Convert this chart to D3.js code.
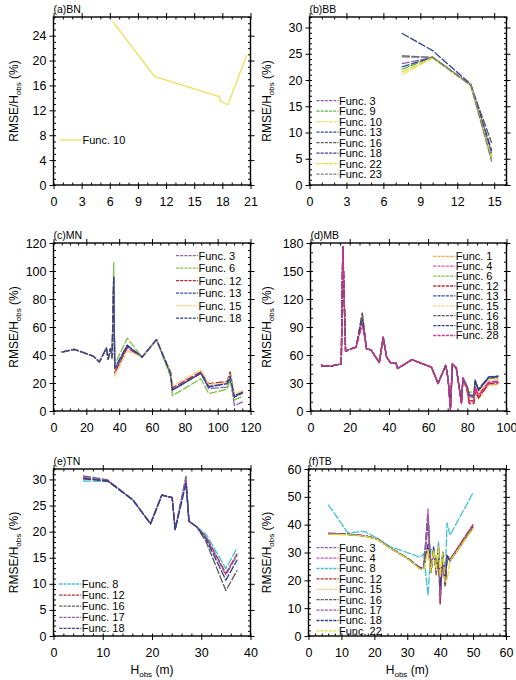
<!DOCTYPE html>
<html>
<head>
<meta charset="utf-8">
<script src="https://cdn.jsdelivr.net/npm/d3@7"></script>
<style>
  body { margin: 0; background: #fff; }
  text { font-family: "Liberation Sans", Arial, Helvetica, sans-serif; fill: #000; }
</style>
</head>
<body>
<div id="chart"></div>
<script>
// ---- data ----

// (a) BN
var xBN = [6.3, 10.8, 17.7, 17.75, 18.0, 18.6, 20.6];
var bnF10 = [26.3, 17.4, 14.2, 13.5, 13.3, 12.9, 20.9];

// (b) BB
var xBB = [7.5, 10, 13.1, 14.8];
var bbF3  = [23.1, 24.3, 19.0, 5.5];
var bbF9  = [22.0, 24.4, 19.0, 5.0];
var bbF10 = [21.0, 24.2, 19.0, 6.0];
var bbF13 = [22.5, 24.3, 19.1, 5.8];
var bbF16 = [24.6, 24.3, 19.0, 8.0];
var bbF18 = [28.9, 25.6, 19.2, 6.5];
var bbF22 = [21.5, 24.2, 19.0, 5.2];
var bbF23 = [24.4, 24.3, 19.0, 4.4];

// (c) MN
var xMN = [5, 12.7, 24.5, 28, 32.2, 33.3, 34.7, 35.7, 36.7, 37.3, 44.9, 54, 62.7, 71.4, 72.4, 89.8, 94.5, 105.7, 107.6, 110.2, 115.3];
var mnF3  = [42, 44, 39, 35, 45, 37, 44.5, 38, 95, 28, 46, 38.5, 51, 26, 15, 27, 16, 17, 24, 4, 6.5];
var mnF6  = [42, 44, 39, 35, 45, 37, 44.5, 40, 106, 33, 52, 38.5, 51, 24, 11, 23, 12.5, 15.5, 22, 8, 10.5];
var mnF12 = [42, 44, 39, 35, 45, 37, 44.5, 38, 95, 27, 45, 38.5, 51, 27, 16.5, 28, 19.5, 21, 28, 11, 14];
var mnF13 = [42, 44, 39, 35, 45, 37, 44.5, 38, 95, 30, 47, 38.5, 51, 27, 15, 27, 17, 19.5, 24, 10, 13.5];
var mnF15 = [42, 44, 39, 35, 45, 37, 44.5, 37, 95, 25, 43, 38.5, 51, 28, 18, 29.5, 19, 20, 26, 12, 14.5];
var mnF18 = [42, 44, 39, 35, 45, 37, 44.5, 38, 96, 30.5, 47, 38.5, 51, 27, 15, 27, 17.5, 19.5, 25, 10, 13];

// (d) MB
var xMB = [5.5, 6.5, 10, 15.7, 16.5, 17.9, 20, 23.3, 26.4, 28.6, 30.8, 35.1, 37.1, 38.8, 41, 43.6, 44.4, 51.8, 56, 61.7, 65.1, 69, 70.2, 71.4, 72.4, 74.4, 77, 77.8, 79.9, 81, 83.4, 84, 85.7, 90.8, 95.9];
var mbF1  = [48, 48, 48, 50.5, 176, 64, 66, 68.5, 100, 66.5, 65.5, 52, 79, 58, 51, 51.5, 45.5, 55, 51.5, 47, 29.5, 49, 34.5, 3, 50.5, 46, 9, 35, 22, 8, 8.5, 20, 13, 27.5, 28.5];
var mbF4  = [50, 48, 48, 50.5, 176, 64, 66, 68.5, 95, 66.5, 65.5, 52, 79, 58, 51, 51.5, 45.5, 55, 51.5, 47, 29.5, 49, 34.5, 2, 50.5, 46, 9, 35, 24, 10, 10, 25, 16, 30, 31];
var mbF6  = [48, 48, 48, 50.5, 176, 64, 66, 68.5, 100, 66.5, 65.5, 52, 79, 58, 51, 51.5, 45.5, 55, 51.5, 47, 29.5, 49, 34.5, 3, 50.5, 46, 9, 35, 27, 20, 21, 30, 24, 35, 35];
var mbF12 = [48, 48, 48, 50.5, 176, 64, 66, 68.5, 105, 66.5, 65.5, 52, 79, 58, 51, 51.5, 45.5, 55, 51.5, 47, 29.5, 49, 34.5, 3, 50.5, 46, 9, 35, 22, 8, 8, 22, 14, 29, 30];
var mbF13 = [48, 48, 48, 50.5, 176, 64, 66, 68.5, 100, 66.5, 65.5, 52, 79, 58, 51, 51.5, 45.5, 55, 51.5, 47, 29.5, 49, 34.5, 3, 50.5, 46, 9, 35, 26, 16, 16.5, 32, 22, 36, 37];
var mbF15 = [48, 48, 48, 50.5, 176, 64, 66, 68.5, 100, 66.5, 65.5, 52, 79, 58, 51, 51.5, 45.5, 55, 51.5, 47, 29.5, 49, 34.5, 3, 50.5, 46, 9, 35, 25, 14, 14, 28, 20, 33, 34];
var mbF16 = [48, 48, 48, 50.5, 176, 64, 66, 68.5, 104, 66.5, 65.5, 52, 79, 58, 51, 51.5, 45.5, 55, 51.5, 47, 29.5, 49, 34.5, 3, 50.5, 46, 9, 35, 25, 15, 15, 33, 22, 35, 36.5];
var mbF18 = [48, 48, 48, 50.5, 176, 64, 66, 68.5, 98, 66.5, 65.5, 52, 79, 58, 51, 51.5, 45.5, 55, 51.5, 47, 29.5, 49, 34.5, 3, 50.5, 46, 9, 35, 26, 17, 17, 33, 23, 36.5, 37.5];
var mbF28 = [50, 48, 48, 50.5, 176, 64, 66, 68.5, 93, 66.5, 65.5, 52, 79, 58, 51, 51.5, 45.5, 55, 51.5, 47, 29.5, 49, 34.5, 0.5, 50.5, 46, 8, 36, 24, 11, 11, 26, 17, 31, 32];

// (e) TN
var xTN = [6, 11, 16.1, 19.7, 22, 24.1, 24.7, 26.9, 27.5, 29.1, 31, 35, 37.3];
var tnF8  = [29.7, 29.6, 26.1, 21.5, 27, 26.5, 20.4, 29.6, 22, 20.9, 19.5, 12.9, 16.9];
var tnF12 = [30.1, 29.7, 26.1, 21.5, 27, 26.5, 20.4, 29.8, 22, 20.9, 19.0, 12.0, 15.8];
var tnF16 = [30.7, 29.9, 26.1, 21.5, 27, 26.5, 20.4, 30.6, 22, 20.9, 18.0, 8.7, 12.6];
var tnF17 = [30.4, 29.8, 26.1, 21.5, 27, 26.5, 20.4, 30.2, 22, 20.9, 18.8, 11.7, 15.5];
var tnF18 = [30.2, 29.7, 26.1, 21.5, 27, 26.5, 20.4, 29.2, 22, 20.9, 18.5, 10.7, 14.6];

// (f) TB
var xTB = [6, 12, 17, 21, 25, 30, 34, 35, 36.3, 37.2, 38, 38.8, 39.5, 40, 40.8, 41.5, 42.1, 43, 50];
var tbF3  = [36.8, 36.5, 36, 34.8, 31.5, 28, 24.2, 24.5, 40, 23, 31, 23.5, 30, 14, 30, 18.5, 28, 27, 39.5];
var tbF4  = [37, 36.6, 36.1, 34.8, 31.5, 28, 24.2, 24.5, 45.7, 23, 31, 23.5, 33, 12, 30, 18.5, 29, 27.5, 40];
var tbF8  = [47.2, 37, 37.6, 35, 32, 30, 28.2, 29.6, 14.6, 31, 31.4, 25, 33.8, 22.4, 28, 20.6, 40.6, 36.2, 51.5];
var tbF12 = [36.8, 36.5, 36, 34.8, 31.5, 28, 24.5, 25, 32, 23, 31, 22, 30, 11.5, 30, 18, 28.5, 27.5, 40];
var tbF15 = [36.5, 36.3, 35.8, 34.6, 31.3, 27.8, 24, 24, 31, 23, 31, 23.5, 32, 22, 30, 19.5, 29, 27, 38.5];
var tbF16 = [36.8, 36.5, 36, 34.8, 31.5, 28, 24.2, 24.5, 43, 23, 31, 23, 31, 16, 30, 18.5, 28.5, 27, 39];
var tbF17 = [36.8, 36.5, 36, 34.8, 31.5, 28, 24.2, 24.5, 44, 23, 31, 23, 31, 14, 30, 18.5, 28.5, 27, 39.5];
var tbF18 = [36.8, 36.5, 36, 34.8, 31.5, 28, 24.2, 24.5, 33, 23, 32, 23, 32, 18, 30, 19, 29, 27, 39];
var tbF22 = [36.6, 36.4, 35.9, 34.7, 31.4, 27.9, 24, 24, 31, 23, 31, 23.5, 32, 21, 30, 19.5, 20, 27, 38.8];

// ---- styles ----
var colors = {
  "Func. 1": "#f2a93b", "Func. 3": "#8e5cb5", "Func. 4": "#d94fc4",
  "Func. 6": "#7cc242", "Func. 8": "#3fc1cf", "Func. 9": "#5bb04a",
  "Func. 10": "#ece05a", "Func. 12": "#b2282e", "Func. 13": "#34489c",
  "Func. 15": "#f3d08a", "Func. 16": "#5a5a5a", "Func. 17": "#9b59a8",
  "Func. 18": "#2f3f8f", "Func. 22": "#e3da2c", "Func. 23": "#808080",
  "Func. 28": "#d6308f"
};

var panels = [
  { title: "(a)BN", box: [53.5, 17, 250.5, 185], xd: [0, 21], xt: d3.range(0, 22, 3), xm: 1,
    yd: [0, 27], yt: d3.range(0, 25, 4), ym: 1, xs: xBN, dashed: false,
    legend: [60, 140, 0],
    series: [["Func. 10", bnF10]] },
  { title: "(b)BB", box: [309.5, 17, 506.5, 185], xd: [0, 16], xt: d3.range(0, 16, 3), xm: 1,
    yd: [0, 32], yt: d3.range(0, 31, 5), ym: 1, xs: xBB, dashed: true,
    legend: [316.5, 100.7, 10.5],
    series: [["Func. 3", bbF3], ["Func. 9", bbF9], ["Func. 10", bbF10], ["Func. 13", bbF13],
             ["Func. 16", bbF16], ["Func. 18", bbF18], ["Func. 22", bbF22], ["Func. 23", bbF23]] },
  { title: "(c)MN", box: [53.5, 243, 250.5, 411], xd: [0, 120], xt: d3.range(0, 121, 20), xm: 5,
    yd: [0, 120], yt: d3.range(0, 121, 20), ym: 5, xs: xMN, dashed: true,
    legend: [176, 255.7, 12.5],
    series: [["Func. 3", mnF3], ["Func. 6", mnF6], ["Func. 12", mnF12], ["Func. 13", mnF13],
             ["Func. 15", mnF15], ["Func. 18", mnF18]] },
  { title: "(d)MB", box: [310.5, 243, 506.5, 411], xd: [0, 100], xt: d3.range(0, 101, 20), xm: 5,
    yd: [0, 180], yt: d3.range(0, 181, 30), ym: 10, xs: xMB, dashed: true,
    legend: [433.3, 256.3, 9.9],
    series: [["Func. 1", mbF1], ["Func. 4", mbF4], ["Func. 6", mbF6], ["Func. 12", mbF12],
             ["Func. 13", mbF13], ["Func. 15", mbF15], ["Func. 16", mbF16], ["Func. 18", mbF18],
             ["Func. 28", mbF28]] },
  { title: "(e)TN", box: [53.5, 469, 250.5, 636], xd: [0, 40], xt: d3.range(0, 41, 10), xm: 2,
    yd: [0, 32], yt: d3.range(0, 31, 5), ym: 1, xs: xTN, dashed: true, xlabel: true,
    legend: [59.3, 584, 11.1],
    series: [["Func. 8", tnF8], ["Func. 12", tnF12], ["Func. 16", tnF16], ["Func. 17", tnF17],
             ["Func. 18", tnF18]] },
  { title: "(f)TB", box: [308.5, 469, 506, 636], xd: [0, 60], xt: d3.range(0, 61, 10), xm: 2,
    yd: [0, 60], yt: d3.range(0, 61, 10), ym: 2, xs: xTB, dashed: true, xlabel: true,
    legend: [316.5, 547.7, 10.4],
    series: [["Func. 3", tbF3], ["Func. 4", tbF4], ["Func. 8", tbF8], ["Func. 12", tbF12],
             ["Func. 15", tbF15], ["Func. 16", tbF16], ["Func. 17", tbF17], ["Func. 18", tbF18],
             ["Func. 22", tbF22]] }
];

// ---- drawing ----
var svg = d3.select("#chart")
  .append("svg")
    .attr("width", 516)
    .attr("height", 680);

panels.forEach(function(p) {
  var w = p.box[2] - p.box[0],
      h = p.box[3] - p.box[1];
  var g = svg.append("g")
    .attr("transform", "translate(" + p.box[0] + "," + p.box[1] + ")");

  var x = d3.scaleLinear().domain(p.xd).range([0, w]);
  var y = d3.scaleLinear().domain(p.yd).range([h, 0]);

  // data lines
  var line = d3.line()
    .x(function(d) { return x(d[0]); })
    .y(function(d) { return y(d[1]); });

  p.series.forEach(function(s) {
    g.append("path")
      .datum(p.xs.map(function(v, i) { return [v, s[1][i]]; }))
      .attr("fill", "none")
      .attr("stroke", colors[s[0]])
      .attr("stroke-width", 1.3)
      .attr("stroke-linejoin", "round")
      .attr("stroke-dasharray", p.dashed ? "8,1.5" : null)
      .attr("d", line);
  });

  // minor ticks (inward), on all sides
  var xMinor = d3.range(p.xd[0], p.xd[1] + 1e-9, p.xm);
  var yMinor = d3.range(p.yd[0], p.yd[1] + 1e-9, p.ym);
  function minor(axis) { return axis.tickSize(-2.5).tickSizeOuter(0).tickFormat(""); }
  g.append("g").attr("class", "minor").attr("transform", "translate(0," + h + ")")
    .call(minor(d3.axisBottom(x).tickValues(xMinor)));
  g.append("g").attr("class", "minor")
    .call(minor(d3.axisTop(x).tickValues(xMinor)));
  g.append("g").attr("class", "minor")
    .call(minor(d3.axisLeft(y).tickValues(yMinor)));
  g.append("g").attr("class", "minor").attr("transform", "translate(" + w + ",0)")
    .call(minor(d3.axisRight(y).tickValues(yMinor)));

  // major ticks (outward) with labels on bottom / left
  g.append("g").attr("class", "major").attr("transform", "translate(0," + h + ")")
    .call(d3.axisBottom(x).tickValues(p.xt).tickSize(4).tickSizeOuter(0).tickPadding(8));
  g.append("g").attr("class", "major")
    .call(d3.axisLeft(y).tickValues(p.yt).tickSize(4).tickSizeOuter(0).tickPadding(3));
  g.append("g").attr("class", "major")
    .call(d3.axisTop(x).tickValues(p.xt).tickSize(4).tickSizeOuter(0).tickFormat(""));
  g.append("g").attr("class", "major").attr("transform", "translate(" + w + ",0)")
    .call(d3.axisRight(y).tickValues(p.yt).tickSize(4).tickSizeOuter(0).tickFormat(""));

  g.selectAll(".domain").remove();
  g.selectAll(".tick line").attr("stroke", "#000").attr("stroke-width", 1);
  g.selectAll(".major .tick text")
    .attr("font-size", "12.5px")
    .attr("fill", "#000")
    .style("font-family", "'Liberation Sans', Arial, sans-serif");

  // frame
  g.append("rect")
    .attr("width", w)
    .attr("height", h)
    .attr("fill", "none")
    .attr("stroke", "#000")
    .attr("stroke-width", 1.4);

  // panel title
  g.append("text")
    .attr("x", 0)
    .attr("y", -4)
    .attr("font-size", "10.5px")
    .text(p.title);

  // y axis label
  var yl = g.append("text")
    .attr("transform", "translate(" + (-(p.box[0] - (p.box[0] < 200 ? 17.5 : 271))) + "," + (h / 2) + ") rotate(-90)")
    .attr("text-anchor", "middle")
    .attr("font-size", "12px");
  yl.append("tspan").text("RMSE/H");
  yl.append("tspan").attr("font-size", "8px").attr("dy", "3").text("obs");
  yl.append("tspan").attr("dy", "-3").text(" (%)");

  // x axis label (bottom row)
  if (p.xlabel) {
    var xl = g.append("text")
      .attr("x", w / 2)
      .attr("y", h + 38)
      .attr("text-anchor", "middle")
      .attr("font-size", "12px");
    xl.append("tspan").text("H");
    xl.append("tspan").attr("font-size", "8px").attr("dy", "3").text("obs");
    xl.append("tspan").attr("dy", "-3").text(" (m)");
  }

  // legend
  var lg = svg.append("g");
  p.series.forEach(function(s, i) {
    var ly = p.legend[1] + i * p.legend[2];
    lg.append("line")
      .attr("x1", p.legend[0])
      .attr("x2", p.legend[0] + 22)
      .attr("y1", ly)
      .attr("y2", ly)
      .attr("stroke", colors[s[0]])
      .attr("stroke-width", 1.3)
      .attr("stroke-dasharray", p.dashed ? "3,1.2" : null);
    lg.append("text")
      .attr("x", p.legend[0] + 22.5)
      .attr("y", ly)
      .attr("dy", "0.36em")
      .attr("font-size", "11px")
      .text(s[0]);
  });
});
</script>
</body>
</html>
